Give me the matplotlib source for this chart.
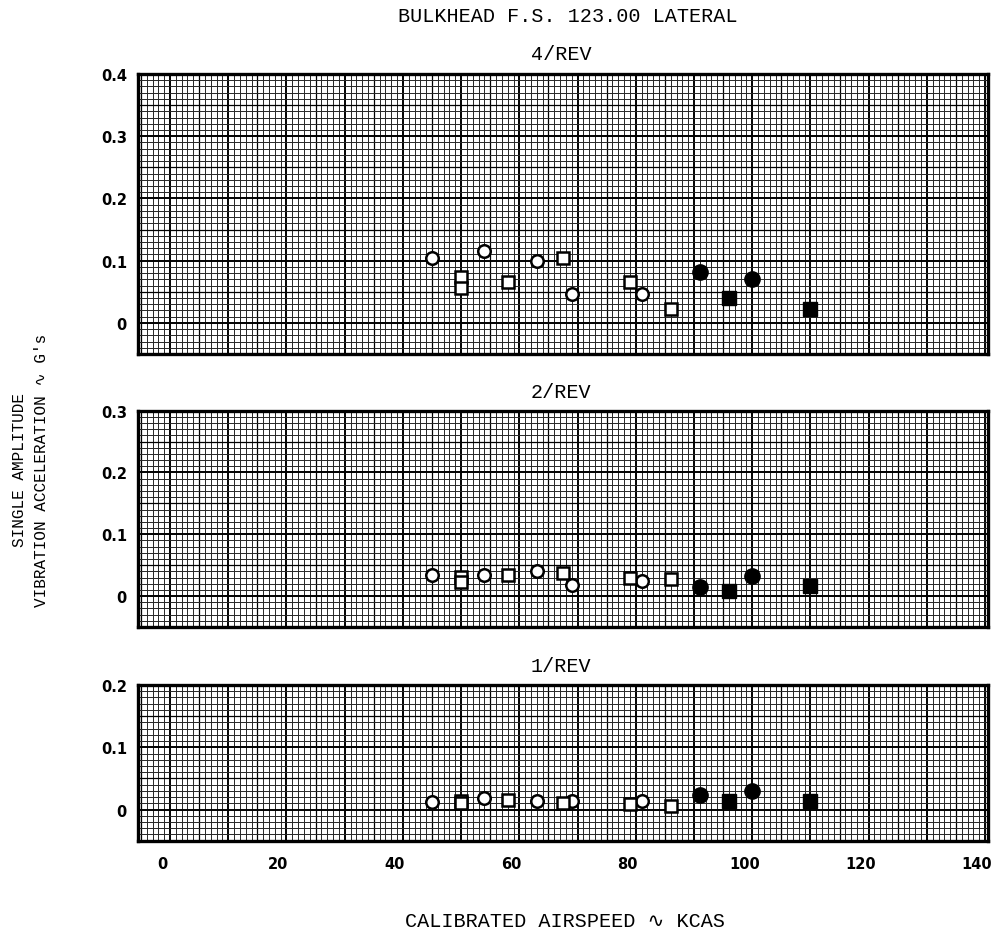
import matplotlib
matplotlib.use("Agg")
import matplotlib.pyplot as plt
import matplotlib.transforms as mtransforms
import numpy as np

# airspeeds (KCAS) for each symbol type
kcas_open_circle = [45, 54, 63, 69, 81]
kcas_open_square = [50, 50, 58, 67.5, 79, 86]
kcas_fill_circle = [91, 100]
kcas_fill_square = [96, 110]

# 4/REV amplitudes (g)
rev4_open_circle = [0.104, 0.115, 0.100, 0.046, 0.047]
rev4_open_square = [0.074, 0.056, 0.066, 0.105, 0.065, 0.023]
rev4_fill_circle = [0.082, 0.070]
rev4_fill_square = [0.040, 0.023]

# 2/REV amplitudes (g)
rev2_open_circle = [0.034, 0.034, 0.040, 0.018, 0.024]
rev2_open_square = [0.031, 0.022, 0.034, 0.037, 0.030, 0.027]
rev2_fill_circle = [0.014, 0.032]
rev2_fill_square = [0.008, 0.016]

# 1/REV amplitudes (g)
rev1_open_circle = [0.012, 0.018, 0.013, 0.014, 0.013]
rev1_open_square = [0.014, 0.011, 0.016, 0.010, 0.009, 0.006]
rev1_fill_circle = [0.023, 0.030]
rev1_fill_square = [0.014, 0.013]

x_ticks = [0, 20, 40, 60, 80, 100, 120, 140]

MONO = ["Liberation Mono", "DejaVu Sans Mono", "DejaVu Sans"]

fig = plt.figure(figsize=(9.98, 9.45), dpi=100)
fig.patch.set_facecolor("white")

left, right = 138 / 998, 988 / 998
panels = [
    # (top px, bottom px, ymax, yticks, data)
    (75, 355, 0.40, [0, 0.1, 0.2, 0.3, 0.4],
     (rev4_open_circle, rev4_open_square, rev4_fill_circle, rev4_fill_square)),
    (411.6, 628, 0.30, [0, 0.1, 0.2, 0.3],
     (rev2_open_circle, rev2_open_square, rev2_fill_circle, rev2_fill_square)),
    (686, 841.7, 0.20, [0, 0.1, 0.2],
     (rev1_open_circle, rev1_open_square, rev1_fill_circle, rev1_fill_square)),
]

xmin, xmax = -5.5, 140.5
ymin = -0.05

axes = []
for i, (ptop, pbot, ymax, yticks, data) in enumerate(panels):
    b = 1 - pbot / 945
    h = (pbot - ptop) / 945
    ax = fig.add_axes([left, b, right - left, h])
    ax.set_xlim(xmin, xmax)
    ax.set_ylim(ymin, ymax)

    # graph paper
    for xv in np.arange(-5, 141, 1):
        if xv % 10 == 0:
            lw, c = 1.4, "black"
        elif xv % 5 == 0:
            lw, c = 0.9, "black"
        else:
            lw, c = 0.7, "0.15"
        ax.axvline(xv, color=c, lw=lw, zorder=1)
    for k in range(-5, int(round(ymax * 100)) + 1):
        yv = k / 100
        if k % 10 == 0:
            lw, c = 1.4, "black"
        elif k % 5 == 0:
            lw, c = 0.9, "black"
        else:
            lw, c = 0.7, "0.15"
        ax.axhline(yv, color=c, lw=lw, zorder=1)

    oc, osq, fc, fsq = data
    ax.plot(kcas_open_circle, oc, "o", ms=9, mfc="white", mec="black", mew=1.8, zorder=3)
    ax.plot(kcas_open_square, osq, "s", ms=8, mfc="white", mec="black", mew=1.8, zorder=3)
    ax.plot(kcas_fill_circle, fc, "o", ms=11, mfc="black", mec="black", zorder=3)
    ax.plot(kcas_fill_square, fsq, "s", ms=9.5, mfc="black", mec="black", zorder=3)

    ax.set_yticks(yticks)
    ax.set_yticklabels(["0" if t == 0 else f"{t:.1f}" for t in yticks])
    ax.set_xticks(x_ticks)
    if i == 2:
        ax.set_xticklabels([str(t) for t in x_ticks])
    else:
        ax.set_xticklabels([])
    ax.tick_params(length=0, labelsize=10.5, pad=8)
    for lab in ax.get_xticklabels() + ax.get_yticklabels():
        lab.set_fontweight("bold")
    for sp in ax.spines.values():
        sp.set_linewidth(2.4)
        sp.set_zorder(4)
    axes.append(ax)

axes[2].tick_params(axis="x", pad=11)
# the hand-lettered x labels sit a little left of the grid lines
shift = mtransforms.ScaledTranslation(-8 / 100, 0, fig.dpi_scale_trans)
for lab in axes[2].get_xticklabels():
    lab.set_transform(lab.get_transform() + shift)

fig.text(568 / 998, 1 - 16 / 945, "BULKHEAD F.S. 123.00 LATERAL",
         ha="center", va="center", fontsize=14.5, family=MONO)
fig.text(561 / 998, 1 - 54 / 945, "4/REV", ha="center", va="center",
         fontsize=14.5, family=MONO)
fig.text(561 / 998, 1 - 393 / 945, "2/REV", ha="center", va="center",
         fontsize=14.5, family=MONO)
fig.text(561 / 998, 1 - 667 / 945, "1/REV", ha="center", va="center",
         fontsize=14.5, family=MONO)

fig.text(20 / 998, 1 - 470 / 945, "SINGLE AMPLITUDE", rotation=90,
         ha="center", va="center", fontsize=11.5, family=MONO)
fig.text(42 / 998, 1 - 470 / 945, "VIBRATION ACCELERATION \u223f G's", rotation=90,
         ha="center", va="center", fontsize=11.5, family=MONO)

fig.text(565 / 998, 1 - 922 / 945, "CALIBRATED AIRSPEED \u223f KCAS",
         ha="center", va="center", fontsize=14.5, family=MONO)

fig.savefig("out.png", dpi=100)
